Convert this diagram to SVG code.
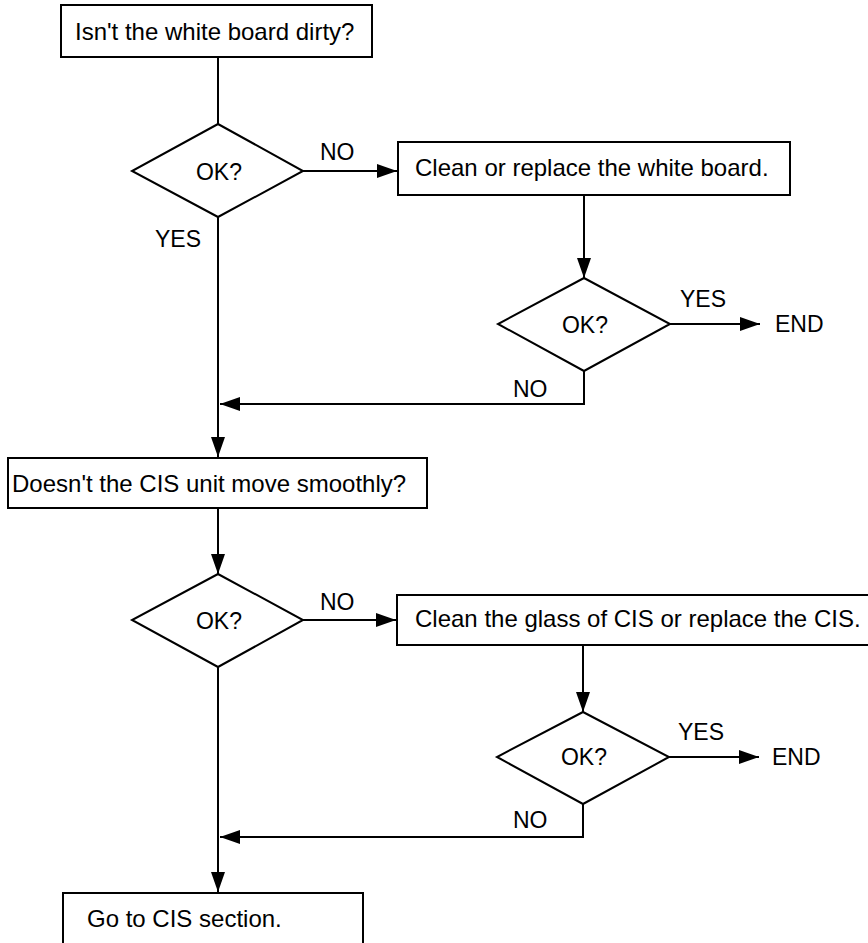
<svg xmlns="http://www.w3.org/2000/svg" width="868" height="943" viewBox="0 0 868 943">
<style>
.box{fill:#fff;stroke:#000;stroke-width:2}
.dia{fill:#fff;stroke:#000;stroke-width:2}
.t{font-family:"Liberation Sans",Arial,sans-serif;font-size:24px;fill:#000}
.l{font-family:"Liberation Sans",Arial,sans-serif;font-size:23px;fill:#000}
.c{fill:none;stroke:#000;stroke-width:2}
</style>
<defs>
<marker id="ah" markerUnits="userSpaceOnUse" viewBox="0 0 20 14" refX="20" refY="7" markerWidth="20" markerHeight="14" orient="auto">
<path d="M0,0 L20,7 L0,14 z" fill="#000"/>
</marker>
</defs>
<rect width="868" height="943" fill="#fff"/>
<g id="connectors">
<path class="c" d="M218,57 V124"/>
<path class="c" d="M303,171 H397" marker-end="url(#ah)"/>
<path class="c" d="M584,195 V278" marker-end="url(#ah)"/>
<path class="c" d="M670,324 H760" marker-end="url(#ah)"/>
<path class="c" d="M584,371 V404 H220" marker-end="url(#ah)"/>
<path class="c" d="M218,217 V457" marker-end="url(#ah)"/>
<path class="c" d="M218,508 V574" marker-end="url(#ah)"/>
<path class="c" d="M303,620 H396" marker-end="url(#ah)"/>
<path class="c" d="M583,645 V712" marker-end="url(#ah)"/>
<path class="c" d="M669,757 H759" marker-end="url(#ah)"/>
<path class="c" d="M583,804 V837 H220" marker-end="url(#ah)"/>
<path class="c" d="M218,667 V892" marker-end="url(#ah)"/>
<text class="l" x="320" y="160">NO</text>
<text class="l" x="155" y="247">YES</text>
<text class="l" x="680" y="307">YES</text>
<text class="l" x="513" y="397">NO</text>
<text class="l" x="320" y="610">NO</text>
<text class="l" x="678" y="740">YES</text>
<text class="l" x="513" y="828">NO</text>
</g>
<g id="box1"><rect class="box" x="61" y="5" width="311" height="52"/><text class="t" x="75" y="40">Isn't the white board dirty?</text></g>
<g id="dia1"><polygon class="dia" points="218,124 303,171 218,217 132,171"/><text class="l" x="219" y="180" text-anchor="middle">OK?</text></g>
<g id="box2"><rect class="box" x="398" y="142" width="392" height="53"/><text class="t" x="415" y="176">Clean or replace the white board.</text></g>
<g id="dia2"><polygon class="dia" points="584,278 670,324 584,371 498,324"/><text class="l" x="585" y="333" text-anchor="middle">OK?</text></g>
<g id="end1"><text class="l" x="775" y="332">END</text></g>
<g id="box3"><rect class="box" x="8" y="458" width="419" height="50"/><text class="t" x="12" y="492">Doesn't the CIS unit move smoothly?</text></g>
<g id="dia3"><polygon class="dia" points="218,574 303,620 218,667 132,620"/><text class="l" x="219" y="629" text-anchor="middle">OK?</text></g>
<g id="box4"><rect class="box" x="397" y="595" width="475" height="50"/><text class="t" x="415" y="627">Clean the glass of CIS or replace the CIS.</text></g>
<g id="dia4"><polygon class="dia" points="583,712 669,757 583,804 497,757"/><text class="l" x="584" y="765" text-anchor="middle">OK?</text></g>
<g id="end2"><text class="l" x="772" y="765">END</text></g>
<g id="box5"><rect class="box" x="63" y="893" width="300" height="60"/><text class="t" x="87" y="927">Go to CIS section.</text></g>
</svg>
